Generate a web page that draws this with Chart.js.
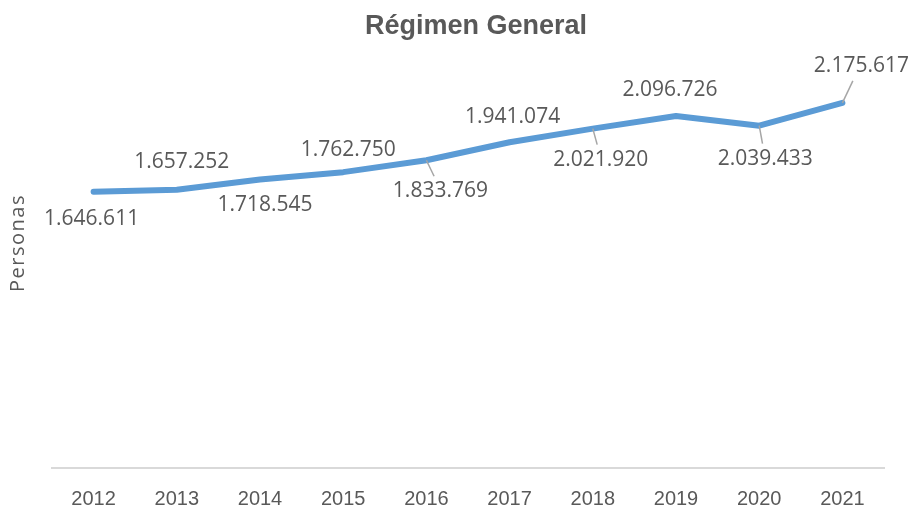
<!DOCTYPE html>
<html>
<head>
<meta charset="utf-8">
<script src="https://cdn.jsdelivr.net/npm/chart.js@4/dist/chart.umd.min.js"></script>
<style>
  html, body { margin: 0; padding: 0; background: #fff; }
  #wrap { width: 912px; height: 511px; }
</style>
</head>
<body>
<div id="wrap"><canvas id="mycanvas" width="912" height="511"></canvas></div>
<script>
// datos
var years = ["2012", "2013", "2014", "2015", "2016", "2017", "2018", "2019", "2020", "2021"];
var personas = [1646611, 1657252, 1718545, 1762750, 1833769, 1941074, 2021920, 2096726, 2039433, 2175617];
var yTitle = "Personas";

// where each data label sits relative to its point (px), and if it has a leader line
var labelOffsets = [[-2, 27], [5, -28], [5, 25], [5, -22], [14, 31], [3, -25], [8, 31], [-6, -26], [6, 33], [19, -37]];
var leaders = [false, false, false, false, true, false, true, false, true, true];

function fmt(n) {
  return String(n).replace(/\B(?=(\d{3})+(?!\d))/g, ".");
}

var dataLabels = {
  id: "dataLabels",
  afterDatasetsDraw: function(chart) {
    var ctx = chart.ctx;
    var meta = chart.getDatasetMeta(0);
    ctx.save();
    for (var i = 0; i < meta.data.length; i++) {
      var p = meta.data[i];
      var off = labelOffsets[i];
      var tx = p.x + off[0], ty = p.y + off[1];
      if (leaders[i]) {
        // leader line goes from the point to the edge of the label
        var ex = tx - off[0] * 0.45;
        var ey = ty - (off[1] > 0 ? 15 : -15);
        ctx.strokeStyle = "#a6a6a6";
        ctx.lineWidth = 1.5;
        ctx.beginPath();
        ctx.moveTo(p.x, p.y);
        ctx.lineTo(ex, ey);
        ctx.stroke();
      }
      ctx.fillStyle = "#595959";
      ctx.font = "21px 'Open Sans'";
      ctx.textAlign = "center";
      ctx.textBaseline = "middle";
      ctx.fillText(fmt(personas[i]), tx, ty);
    }
    ctx.restore();
  }
};

// vertical axis title, drawn by hand so the chart title can sit off-centre like the original
var axisTitle = {
  id: "axisTitle",
  afterDraw: function(chart) {
    var ctx = chart.ctx;
    ctx.save();
    ctx.translate(18, 243);
    ctx.rotate(-Math.PI / 2);
    ctx.fillStyle = "#595959";
    ctx.font = "20px 'Open Sans'";
    if ("letterSpacing" in ctx) ctx.letterSpacing = "1.5px";
    ctx.textAlign = "center";
    ctx.textBaseline = "middle";
    ctx.fillText(yTitle, 0, 0);
    ctx.restore();
  }
};

var chartdata = {
  labels: years,
  datasets: [
    {
      label: "Régimen General",
      data: personas,
      fill: false,
      tension: 0,
      borderColor: "#5b9bd5",
      backgroundColor: "#5b9bd5",
      borderWidth: 6,
      borderCapStyle: "round",
      borderJoinStyle: "round",
      pointRadius: 0,
      pointHoverRadius: 0
    }
  ]
};

var ctx = document.getElementById("mycanvas");

var LineGraph = new Chart(ctx, {
  type: "line",
  data: chartdata,
  plugins: [dataLabels, axisTitle],
  options: {
    responsive: false,
    animation: false,
    layout: { padding: { left: 40, right: 0, top: 0, bottom: 0 } },
    plugins: {
      legend: { display: false },
      tooltip: { enabled: false },
      title: {
        display: true,
        text: "Régimen General",
        color: "#595959",
        font: { family: "'Liberation Sans'", size: 27, weight: "bold" },
        padding: { top: 10, bottom: 6 }
      }
    },
    scales: {
      x: {
        offset: true,
        grid: { display: false, drawTicks: false },
        border: { display: true, color: "#d9d9d9", width: 2 },
        ticks: {
          color: "#595959",
          font: { family: "'Liberation Sans'", size: 20 },
          padding: 19,
          maxRotation: 0
        },
        afterFit: function(scale) { scale.height = 43; }
      },
      y: {
        min: 0,
        max: 2500000,
        grid: { display: false },
        border: { display: false },
        ticks: { display: false },
        afterFit: function(scale) { scale.width = 12; }
      },
      yRight: {
        position: "right",
        grid: { display: false },
        border: { display: false },
        ticks: { display: false },
        afterFit: function(scale) { scale.width = 28; }
      }
    }
  }
});
</script>
</body>
</html>
